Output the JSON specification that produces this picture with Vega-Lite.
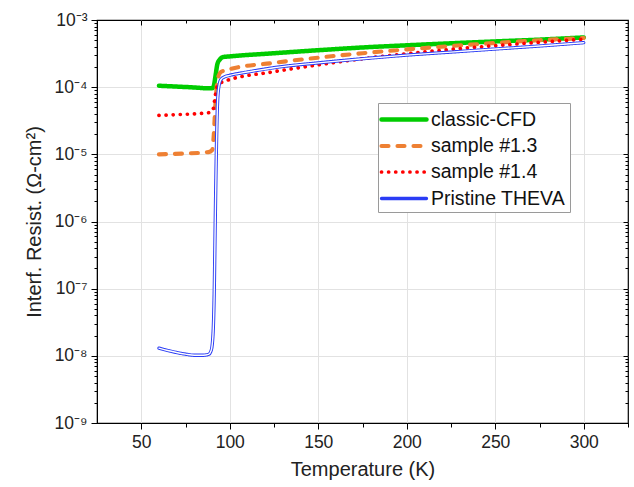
{
  "$schema": "https://vega.github.io/schema/vega-lite/v6.json",
  "width": 531,
  "height": 403,
  "autosize": "none",
  "padding": {"left": 97, "top": 20, "right": 6, "bottom": 64},
  "background": "white",
  "config": {
    "font": "Liberation Sans",
    "view": {"stroke": "black", "strokeWidth": 1.2},
    "axis": {"domainColor": "black", "tickColor": "black", "labelColor": "#222", "titleColor": "#222", "labelFontSize": 17.5, "titleFontSize": 20, "titleFontWeight": "normal", "gridColor": "#e2e2e2"}
  },
  "datasets": {
    "curves": [
      {"series": "classic-CFD", "T": 60, "R": 1.05e-4},
      {"series": "classic-CFD", "T": 70, "R": 1.02e-4},
      {"series": "classic-CFD", "T": 80, "R": 9.9e-5},
      {"series": "classic-CFD", "T": 88, "R": 9.6e-5},
      {"series": "classic-CFD", "T": 90, "R": 9.6e-5},
      {"series": "classic-CFD", "T": 91, "R": 1.05e-4},
      {"series": "classic-CFD", "T": 92, "R": 1.5e-4},
      {"series": "classic-CFD", "T": 93, "R": 2.2e-4},
      {"series": "classic-CFD", "T": 94.5, "R": 2.6e-4},
      {"series": "classic-CFD", "T": 96, "R": 2.8e-4},
      {"series": "classic-CFD", "T": 100, "R": 2.87e-4},
      {"series": "classic-CFD", "T": 125, "R": 3.2e-4},
      {"series": "classic-CFD", "T": 150, "R": 3.55e-4},
      {"series": "classic-CFD", "T": 175, "R": 3.9e-4},
      {"series": "classic-CFD", "T": 200, "R": 4.2e-4},
      {"series": "classic-CFD", "T": 225, "R": 4.5e-4},
      {"series": "classic-CFD", "T": 250, "R": 4.8e-4},
      {"series": "classic-CFD", "T": 275, "R": 5.1e-4},
      {"series": "classic-CFD", "T": 300, "R": 5.5e-4},
      {"series": "sample #1.3", "T": 60, "R": 1.0e-5},
      {"series": "sample #1.3", "T": 75, "R": 1.03e-5},
      {"series": "sample #1.3", "T": 88, "R": 1.08e-5},
      {"series": "sample #1.3", "T": 90, "R": 1.15e-5},
      {"series": "sample #1.3", "T": 91, "R": 2.0e-5},
      {"series": "sample #1.3", "T": 91.8, "R": 5e-5},
      {"series": "sample #1.3", "T": 92.6, "R": 1.0e-4},
      {"series": "sample #1.3", "T": 93.6, "R": 1.45e-4},
      {"series": "sample #1.3", "T": 95, "R": 1.68e-4},
      {"series": "sample #1.3", "T": 100, "R": 1.85e-4},
      {"series": "sample #1.3", "T": 125, "R": 2.3e-4},
      {"series": "sample #1.3", "T": 150, "R": 2.75e-4},
      {"series": "sample #1.3", "T": 175, "R": 3.2e-4},
      {"series": "sample #1.3", "T": 200, "R": 3.65e-4},
      {"series": "sample #1.3", "T": 225, "R": 4.1e-4},
      {"series": "sample #1.3", "T": 250, "R": 4.55e-4},
      {"series": "sample #1.3", "T": 275, "R": 5.0e-4},
      {"series": "sample #1.3", "T": 300, "R": 5.4e-4},
      {"series": "sample #1.4", "T": 60, "R": 3.8e-5},
      {"series": "sample #1.4", "T": 70, "R": 3.9e-5},
      {"series": "sample #1.4", "T": 80, "R": 4.0e-5},
      {"series": "sample #1.4", "T": 89, "R": 4.2e-5},
      {"series": "sample #1.4", "T": 90.5, "R": 4.6e-5},
      {"series": "sample #1.4", "T": 91.5, "R": 6.5e-5},
      {"series": "sample #1.4", "T": 92.5, "R": 9.5e-5},
      {"series": "sample #1.4", "T": 94, "R": 1.12e-4},
      {"series": "sample #1.4", "T": 96, "R": 1.2e-4},
      {"series": "sample #1.4", "T": 100, "R": 1.3e-4},
      {"series": "sample #1.4", "T": 125, "R": 1.7e-4},
      {"series": "sample #1.4", "T": 150, "R": 2.15e-4},
      {"series": "sample #1.4", "T": 175, "R": 2.65e-4},
      {"series": "sample #1.4", "T": 200, "R": 3.15e-4},
      {"series": "sample #1.4", "T": 225, "R": 3.65e-4},
      {"series": "sample #1.4", "T": 250, "R": 4.15e-4},
      {"series": "sample #1.4", "T": 275, "R": 4.65e-4},
      {"series": "sample #1.4", "T": 300, "R": 5.2e-4},
      {"series": "Pristine THEVA", "T": 60, "R": 1.3e-8},
      {"series": "Pristine THEVA", "T": 65, "R": 1.2e-8},
      {"series": "Pristine THEVA", "T": 70, "R": 1.12e-8},
      {"series": "Pristine THEVA", "T": 75, "R": 1.06e-8},
      {"series": "Pristine THEVA", "T": 80, "R": 1.02e-8},
      {"series": "Pristine THEVA", "T": 85, "R": 1.02e-8},
      {"series": "Pristine THEVA", "T": 88, "R": 1.05e-8},
      {"series": "Pristine THEVA", "T": 89.5, "R": 1.2e-8},
      {"series": "Pristine THEVA", "T": 90.5, "R": 2e-8},
      {"series": "Pristine THEVA", "T": 91.2, "R": 8e-8},
      {"series": "Pristine THEVA", "T": 91.8, "R": 1e-6},
      {"series": "Pristine THEVA", "T": 92.4, "R": 1e-5},
      {"series": "Pristine THEVA", "T": 93, "R": 5e-5},
      {"series": "Pristine THEVA", "T": 93.8, "R": 1.0e-4},
      {"series": "Pristine THEVA", "T": 95, "R": 1.3e-4},
      {"series": "Pristine THEVA", "T": 97, "R": 1.42e-4},
      {"series": "Pristine THEVA", "T": 100, "R": 1.5e-4},
      {"series": "Pristine THEVA", "T": 110, "R": 1.68e-4},
      {"series": "Pristine THEVA", "T": 125, "R": 1.95e-4},
      {"series": "Pristine THEVA", "T": 150, "R": 2.3e-4},
      {"series": "Pristine THEVA", "T": 175, "R": 2.65e-4},
      {"series": "Pristine THEVA", "T": 200, "R": 3.0e-4},
      {"series": "Pristine THEVA", "T": 225, "R": 3.33e-4},
      {"series": "Pristine THEVA", "T": 250, "R": 3.7e-4},
      {"series": "Pristine THEVA", "T": 275, "R": 4.1e-4},
      {"series": "Pristine THEVA", "T": 300, "R": 4.6e-4}
    ]
  },
  "data": {"name": "curves"},
  "layer": [
    {
      "mark": {"type": "line", "interpolate": "monotone", "strokeCap": "round", "strokeJoin": "round"},
      "encoding": {
        "x": {
          "field": "T", "type": "quantitative",
          "scale": {"domain": [25, 325], "nice": false, "zero": false},
          "axis": {
            "orient": "bottom", "title": "Temperature (K)", "titlePadding": 9,
            "values": [50, 75, 100, 125, 150, 175, 200, 225, 250, 275, 300, 325],
            "labelExpr": "datum.value % 50 == 0 ? datum.label : ''",
            "tickSize": {"condition": {"test": "datum.value % 50 == 0", "value": 6}, "value": 4},
            "gridOpacity": {"condition": {"test": "datum.value % 50 == 0 && datum.value < 320", "value": 1}, "value": 0},
            "grid": true, "labelPadding": 4, "domain": true
          }
        },
        "y": {
          "field": "R", "type": "quantitative",
          "scale": {"type": "log", "domain": [1e-9, 1e-3], "nice": false},
          "axis": {
            "orient": "left", "title": "Interf. Resist. (Ω-cm²)", "titlePadding": 10,
            "values": [1e-9, 2e-9, 3e-9, 4e-9, 5e-9, 6e-9, 7e-9, 8e-9, 9e-9, 1e-8, 2e-8, 3e-8, 4e-8, 5e-8, 6e-8, 7e-8, 8e-8, 9e-8, 1e-7, 2e-7, 3e-7, 4e-7, 5e-7, 6e-7, 7e-7, 8e-7, 9e-7, 1e-6, 2e-6, 3e-6, 4e-6, 5e-6, 6e-6, 7e-6, 8e-6, 9e-6, 1e-5, 2e-5, 3e-5, 4e-5, 5e-5, 6e-5, 7e-5, 8e-5, 9e-5, 1e-4, 2e-4, 3e-4, 4e-4, 5e-4, 6e-4, 7e-4, 8e-4, 9e-4, 1e-3],
            "labelExpr": "abs(log(datum.value)/LN10 - round(log(datum.value)/LN10)) < 0.01 ? '10⁻' + ['⁰','¹','²','³','⁴','⁵','⁶','⁷','⁸','⁹'][-round(log(datum.value)/LN10)] : ''",
            "tickSize": {"condition": {"test": "abs(log(datum.value)/LN10 - round(log(datum.value)/LN10)) < 0.01", "value": 6}, "value": 3},
            "gridOpacity": {"condition": {"test": "abs(log(datum.value)/LN10 - round(log(datum.value)/LN10)) < 0.01 && datum.value < 5e-4 && datum.value > 2e-9", "value": 1}, "value": 0},
            "grid": true, "labelPadding": 4
          }
        },
        "color": {
          "field": "series", "type": "nominal",
          "scale": {"domain": ["classic-CFD", "sample #1.3", "sample #1.4", "Pristine THEVA"], "range": ["#00cc00", "#ee8033", "#ff0000", "#2a3cf5"]},
          "legend": {
            "orient": "none", "legendX": 281, "legendY": 83, "title": null,
            "fillColor": "white", "strokeColor": "#9a9a9a", "padding": 4,
            "labelFontSize": 19.5, "labelColor": "#111", "labelOffset": 24,
            "symbolType": "M-1.3,0H3.2", "symbolSize": 400, "rowPadding": 4.5,
            "encode": {"symbols": {"update": {"strokeCap": {"value": "round"}}}}
          }
        },
        "strokeDash": {
          "field": "series", "type": "nominal",
          "scale": {"domain": ["classic-CFD", "sample #1.3", "sample #1.4", "Pristine THEVA"], "range": [[1, 0], [7, 9], [0.1, 7], [1, 0]]}
        },
        "strokeWidth": {
          "field": "series", "type": "nominal",
          "scale": {"domain": ["classic-CFD", "sample #1.3", "sample #1.4", "Pristine THEVA"], "range": [4.5, 3.3, 3.8, 4.2]}
        }
      }
    },
    {
      "transform": [{"filter": "datum.series == 'Pristine THEVA'"}],
      "mark": {"type": "line", "interpolate": "monotone", "color": "white", "strokeWidth": 1.4, "strokeCap": "round", "strokeJoin": "round"},
      "encoding": {
        "x": {"field": "T", "type": "quantitative", "axis": null},
        "y": {"field": "R", "type": "quantitative", "axis": null}
      }
    },
    {
      "mark": {"type": "point", "opacity": 0},
      "encoding": {
        "x": {
          "field": "T", "type": "quantitative",
          "axis": {
            "orient": "top", "title": null, "labels": false, "domain": false, "grid": false,
            "values": [50, 75, 100, 125, 150, 175, 200, 225, 250, 275, 300],
            "tickSize": {"condition": {"test": "datum.value % 50 == 0", "value": -5}, "value": -3}
          }
        },
        "y": {
          "field": "R", "type": "quantitative",
          "axis": {
            "orient": "right", "title": null, "labels": false, "domain": false, "grid": false,
            "values": [2e-9, 3e-9, 4e-9, 5e-9, 6e-9, 7e-9, 8e-9, 9e-9, 1e-8, 2e-8, 3e-8, 4e-8, 5e-8, 6e-8, 7e-8, 8e-8, 9e-8, 1e-7, 2e-7, 3e-7, 4e-7, 5e-7, 6e-7, 7e-7, 8e-7, 9e-7, 1e-6, 2e-6, 3e-6, 4e-6, 5e-6, 6e-6, 7e-6, 8e-6, 9e-6, 1e-5, 2e-5, 3e-5, 4e-5, 5e-5, 6e-5, 7e-5, 8e-5, 9e-5, 1e-4, 2e-4, 3e-4, 4e-4, 5e-4, 6e-4, 7e-4, 8e-4, 9e-4],
            "tickSize": {"condition": {"test": "abs(log(datum.value)/LN10 - round(log(datum.value)/LN10)) < 0.01", "value": -5}, "value": -3}
          }
        }
      }
    }
  ],
  "resolve": {"axis": {"x": "independent", "y": "independent"}}
}
